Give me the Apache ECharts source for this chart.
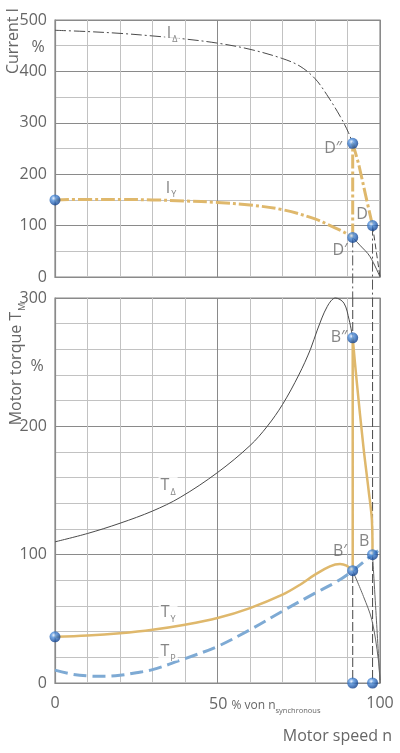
<!DOCTYPE html>
<html><head><meta charset="utf-8">
<script src="https://cdn.jsdelivr.net/npm/echarts@6.0.0/dist/echarts.min.js"></script>
<style>html,body{margin:0;padding:0;background:#fff}#c{width:400px;height:753px}</style>
</head><body><div id="c"></div>
<script>
// ---------- data ----------
// Current chart (top)
const iDeltaSpeed = [0, 10, 20, 30, 40, 50, 60, 70, 75.4, 80, 83.6, 87.7, 90.3, 91.6];
const iDeltaValue = [480, 477.5, 474, 469, 463, 455, 443, 425, 410, 386, 355, 313, 281, 260];
const iDeltaTailSpeed = [97.7, 100];
const iDeltaTailValue = [100, 0];
const iStarSpeed = [0, 10, 20, 30, 40, 50, 60, 70, 80, 85, 88.7, 91.6];
const iStarValue = [150, 151, 151, 150, 148, 145, 140, 131, 113, 99, 88, 77];
const iStarTailSpeed = [91.6, 93.8, 96.9, 100];
const iStarTailValue = [77, 62, 40, 0];
const iSwitchSpeed = [91.6, 91.6];
const iSwitchValue = [77, 260];
const iRunSpeed = [91.6, 92.8, 93.6, 95.9, 97.7];
const iRunValue = [260, 234, 215, 150, 100];
const iPointSpeed = [0, 91.6, 91.6, 97.7];
const iPointValue = [150, 260, 77, 100];
// Torque chart (bottom)
const tDeltaSpeed = [0, 10, 20, 30, 38.5, 50, 60, 65.3, 70, 75, 78.6, 80.7, 83.8, 86.3, 88.9, 90.5, 91.6];
const tDeltaValue = [110, 116.5, 124.5, 134, 144.6, 164, 185, 200, 217, 240, 260, 275, 293.5, 300, 296, 283, 269];
const tDeltaTailSpeed = [97.7, 98.9, 100];
const tDeltaTailValue = [100, 49, 2];
const tStarSpeed = [0, 10, 20, 30, 40, 50, 60, 70, 75.4, 80, 84.6, 87.7, 89.7, 91.6];
const tStarValue = [36, 37, 38.8, 41.5, 45.4, 50.6, 58.4, 68.8, 76.6, 84.4, 90.9, 92.7, 91.4, 87.5];
const tStarTailSpeed = [91.6, 94.9, 97.5, 99.5, 100];
const tStarTailValue = [87.5, 67.5, 49, 18, 0];
const tLoadSpeed = [0, 5, 10, 15, 20, 25, 30, 40, 50, 60, 70, 80, 86.7, 91.6, 97.7, 100];
const tLoadValue = [10, 7, 5.5, 5.2, 6, 8, 10.4, 19, 28.5, 41.5, 56, 70, 79, 87.5, 100, 104];
const tSwitchSpeed = [91.6, 91.6];
const tSwitchValue = [87.5, 269];
const tRunSpeed = [91.6, 92.8, 94.9, 96.5, 97.5, 97.7];
const tRunValue = [269, 236, 184, 150, 127, 100];
const tPointSpeed = [0, 91.6, 91.6, 97.7, 91.6, 97.7];
const tPointValue = [36, 269, 87.5, 100, 0, 0];
// switching speeds (guide lines)
const switchSpeeds = [91.6, 97.7];
// tick labels
const speedTickLabels = ['0', '', '100'];
const currentTicks = [0, 100, 200, 300, 400, 500];
const torqueTicks = [0, 100, 200, 300];
// curve labels
const topLabelText = ['{m|I}{s|Δ}', '{m|I}{s|Y}', '{m|D″}', '{m|D}', '{m|D′}'];
const topLabelSpeed = [36, 35.7, 85.6, 94.5, 87.7];
const topLabelValue = [476, 175, 253, 124, 54.5];
const topLabelBg = [true, false, false, false, false];
const botLabelText = ['{m|B″}', '{m|T}{s|Δ}', '{m|T}{s|Y}', '{m|T}{s|P}', '{m|B′}', '{m|B}'];
const botLabelSpeed = [87.4, 34.8, 34.8, 34.8, 87.7, 95.1];
const botLabelValue = [270, 154.5, 55.6, 25.2, 103, 111];
const botLabelBg = [false, true, true, true, false, false];

// ---------- build ----------
const pair = (xs, ys) => xs.map((x, i) => [x, ys[i]]);
const FONT = '"Open Sans", "Noto Sans", sans-serif';
const TXT = '#666';
const YEL = '#dfb86c';
const BLUE = '#7eaad4';
const DARK = '#4a4a4a';
const gridDark = '#8a8a8a', gridLight = '#c2c2c2';

const sphere = {
  type: 'radial', x: 0.38, y: 0.35, r: 0.75,
  colorStops: [{offset: 0, color: '#e6f0ff'}, {offset: 0.3, color: '#4f8fdc'}, {offset: 0.75, color: '#1a4f9e'}, {offset: 1, color: '#0d3474'}]
};
const rich = {
  m: {fontSize: 16, fontFamily: FONT, color: TXT, lineHeight: 18, verticalAlign: 'bottom'},
  s: {fontSize: 9, fontFamily: FONT, color: TXT, lineHeight: 12, verticalAlign: 'bottom', padding: [0, 0, -3, 1]}
};

function line(xi, data, color, width, type, extra) {
  return Object.assign({
    type: 'line', xAxisIndex: xi, yAxisIndex: xi, data, symbol: 'none', silent: true,
    smooth: 0.35,
    lineStyle: {color, width, type}
  }, extra || {});
}
function labelSeries(xi, texts, xs, ys, flags, bg) {
  return {
    type: 'scatter', xAxisIndex: xi, yAxisIndex: xi, symbolSize: 1, itemStyle: {color: 'rgba(0,0,0,0)'}, z: 20, silent: true,
    data: texts.map((t, i) => ({value: [xs[i], ys[i]], name: t})).filter((d, i) => flags[i] === bg),
    label: {show: true, position: 'inside', formatter: p => p.name, rich,
      backgroundColor: bg ? '#fff' : 'transparent', padding: bg ? [1, 2, 1, 2] : 0}
  };
}
function xAxis(gi, showLabels) {
  return {
    type: 'value', gridIndex: gi, min: 0, max: 100, interval: 50,
    axisLine: {show: true, lineStyle: {color: gridDark, width: 1.2}}, axisTick: {show: false},
    axisLabel: {show: showLabels, color: TXT, fontSize: 16, fontFamily: FONT, margin: 12,
      formatter: v => speedTickLabels[Math.round(v / 50)]},
    splitLine: {show: true, lineStyle: {color: gridDark, width: 1}},
    minorTick: {show: false, splitNumber: 5},
    minorSplitLine: {show: true, lineStyle: {color: gridLight, width: 1}}
  };
}
function yAxis(gi, max, split, ticks) {
  return {
    type: 'value', gridIndex: gi, min: 0, max, interval: 100,
    axisLine: {show: true, lineStyle: {color: gridDark, width: 1.2}}, axisTick: {show: false},
    axisLabel: {color: TXT, fontSize: 16, fontFamily: FONT, margin: 8,
      formatter: v => ticks.includes(v) ? String(v) : ''},
    splitLine: {show: true, lineStyle: {color: gridDark, width: 1}},
    minorTick: {show: false, splitNumber: split},
    minorSplitLine: {show: true, lineStyle: {color: gridLight, width: 1}}
  };
}

const series = [
  // top guides
  ...[[switchSpeeds[0], 77], [switchSpeeds[1], 100]].map(([x, y0]) =>
    line(0, [[x, y0], [x, -41]], '#555', 1, [10, 3, 2, 3], {smooth: false, clip: false, z: 1})),
  line(0, pair(iDeltaSpeed, iDeltaValue), DARK, 1, [11, 3, 2, 3]),
  line(0, pair(iDeltaTailSpeed, iDeltaTailValue), DARK, 1, [6, 3], {smooth: false}),
  line(0, pair(iStarTailSpeed, iStarTailValue), '#555', 1, 'solid'),
  line(0, pair(iStarSpeed, iStarValue), YEL, 3, [14, 3, 3, 3], {z: 3}),
  line(0, pair(iSwitchSpeed, iSwitchValue), YEL, 3, [14, 3, 3, 3], {smooth: false, z: 3}),
  line(0, pair(iRunSpeed, iRunValue), YEL, 3, [14, 3, 3, 3], {z: 3}),
  {type: 'scatter', xAxisIndex: 0, yAxisIndex: 0, data: pair(iPointSpeed, iPointValue), symbolSize: 11,
   itemStyle: {color: sphere}, z: 10, clip: false, silent: true},
  // bottom guides
  ...switchSpeeds.map(x => line(1, [[x, 300], [x, 0]], '#555', 1.1, [9, 3], {smooth: false, z: 1})),
  line(1, pair(tDeltaSpeed, tDeltaValue), DARK, 1, 'solid', {clip: false}),
  line(1, pair(tDeltaTailSpeed, tDeltaTailValue), '#666', 1, 'solid'),
  line(1, pair(tStarTailSpeed, tStarTailValue), '#666', 1, 'solid'),
  line(1, pair(tLoadSpeed, tLoadValue), BLUE, 3, [13, 6], {z: 2}),
  line(1, pair(tStarSpeed, tStarValue), YEL, 2.5, 'solid', {z: 3}),
  line(1, pair(tSwitchSpeed, tSwitchValue), YEL, 2.5, 'solid', {smooth: false, z: 3}),
  line(1, pair(tRunSpeed, tRunValue), YEL, 2.5, 'solid', {z: 3}),
  {type: 'scatter', xAxisIndex: 1, yAxisIndex: 1, data: pair(tPointSpeed, tPointValue), symbolSize: 11,
   itemStyle: {color: sphere}, z: 10, clip: false, silent: true},
  labelSeries(0, topLabelText, topLabelSpeed, topLabelValue, topLabelBg, true),
  labelSeries(0, topLabelText, topLabelSpeed, topLabelValue, topLabelBg, false),
  labelSeries(1, botLabelText, botLabelSpeed, botLabelValue, botLabelBg, true),
  labelSeries(1, botLabelText, botLabelSpeed, botLabelValue, botLabelBg, false)
];

const gtext = (x, y, text, opts) => ({type: 'text', x, y, rotation: opts.rot || 0, silent: true, z: 50,
  style: {text, fill: TXT, font: `${opts.size || 16}px ${FONT}`, align: opts.align || 'center', verticalAlign: 'middle', rich: opts.rich}});

const chart = echarts.init(document.getElementById('c'), null, {renderer: 'canvas'});
chart.setOption({
  animation: false,
  backgroundColor: '#fff',
  grid: [
    {left: 55, right: 20, top: 20, height: 257, show: true, borderColor: gridDark, borderWidth: 1.2, containLabel: false},
    {left: 55, right: 20, top: 298, height: 385, show: true, borderColor: gridDark, borderWidth: 1.2, containLabel: false}
  ],
  xAxis: [xAxis(0, false), xAxis(1, true)],
  yAxis: [yAxis(0, 500, 2, currentTicks), yAxis(1, 300, 5, torqueTicks)],
  series,
  graphic: [
    gtext(13, 41, 'Current I', {rot: Math.PI / 2}),
    gtext(38, 47, '%', {}),
    gtext(15, 364, '{m|Motor torque T}{s|M}', {rot: Math.PI / 2, rich}),
    gtext(37, 366, '%', {}),
    gtext(392, 736, 'Motor speed n', {align: 'right'}),
    gtext(209, 703, '{a|50} {b|% von n}{c|synchronous}', {align: 'left', rich: {
      a: {fontSize: 16, fontFamily: FONT, color: TXT, lineHeight: 18, verticalAlign: 'bottom'},
      b: {fontSize: 12, fontFamily: FONT, color: TXT, lineHeight: 16, verticalAlign: 'bottom'},
      c: {fontSize: 7.5, fontFamily: FONT, color: TXT, lineHeight: 12, verticalAlign: 'bottom', padding: [0, 0, -3, 0]}
    }})
  ]
});
</script></body></html>
